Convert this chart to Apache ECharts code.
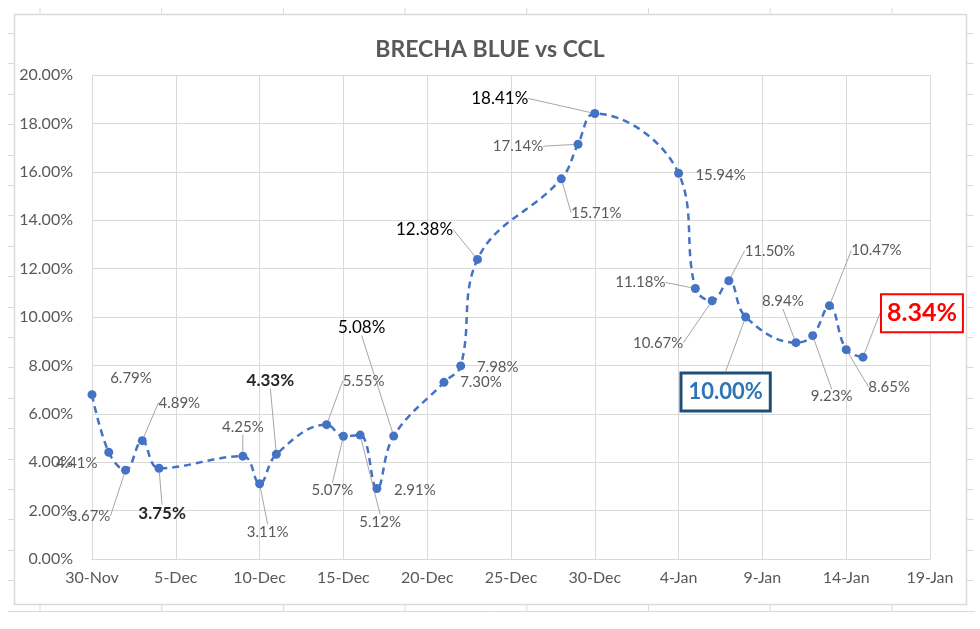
<!DOCTYPE html>
<html>
<head>
<meta charset="utf-8">
<script src="https://cdn.jsdelivr.net/npm/echarts@6/dist/echarts.min.js"></script>
<style>
html,body{margin:0;padding:0;background:#fff;}
#chart{width:980px;height:629px;}
</style>
</head>
<body>
<div id="chart"></div>
<script>
// ---- data ----
const startDate = '2020-11-30';
const dates = ['2020-11-30','2020-12-01','2020-12-02','2020-12-03','2020-12-04',
  '2020-12-09','2020-12-10','2020-12-11','2020-12-14','2020-12-15','2020-12-16',
  '2020-12-17','2020-12-18','2020-12-21','2020-12-22','2020-12-23','2020-12-28',
  '2020-12-29','2020-12-30','2021-01-04','2021-01-05','2021-01-06','2021-01-07',
  '2021-01-08','2021-01-11','2021-01-12','2021-01-13','2021-01-14','2021-01-15'];
const brecha = [6.79,4.41,3.67,4.89,3.75,4.25,3.11,4.33,5.55,5.07,5.12,2.91,5.08,
  7.30,7.98,12.38,15.71,17.14,18.41,15.94,11.18,10.67,11.50,10.00,8.94,9.23,10.47,8.65,8.34];
const xTickLabels = ['30-Nov','5-Dec','10-Dec','15-Dec','20-Dec','25-Dec','30-Dec','4-Jan','9-Jan','14-Jan','19-Jan'];
const yMin = 0, yMax = 20, yStep = 2;
const titleText = 'BRECHA BLUE vs CCL';

// ---- label placement (style only): offset of label centre from point, leader flag ----
const labelOffsets = [[39,-17],[-32,11],[-36,46],[37,-38],[3,45],[0,-29],[8,48],[-6,-74],
  [37,-44],[-11,54],[20,87],[38,2],[-32,-109],[37,0],[37,1],[-53,-30],[35,34],[-60,2],
  [-95,-15],[42,2],[-55,-6],[-54,42],[41,-30],[-20,75],[-13,-41],[19,61],[47,-55],[43,37],[59,-44]];
const leaders = [0,0,1,1,1,1,1,1,1,1,1,0,1,0,0,1,1,1,1,0,1,1,1,1,1,1,1,1,1];
// special label styles keyed by index
const specialStyle = {
  4: {fontSize:17, fontWeight:'bold', color:'#262626'},
  7: {fontSize:17, fontWeight:'bold', color:'#262626'},
  12: {fontSize:17, color:'#000'},
  15: {fontSize:17, color:'#000'},
  18: {fontSize:17, color:'#000'},
  23: {fontSize:22, fontWeight:'bold', color:'#2E75B6', borderColor:'#1F4E79', borderWidth:3,
       padding:[7,6,6,6], backgroundColor:'#fff'},
  28: {fontSize:25, fontWeight:'bold', color:'#FF0000', borderColor:'#FF0000', borderWidth:2,
       padding:[6,5,5,5], backgroundColor:'#fff'}
};

const DAY = 86400000;
const t0 = Date.parse(startDate + 'T00:00:00Z');
const dayIndex = d => Math.round((Date.parse(d + 'T00:00:00Z') - t0) / DAY);

const seriesData = dates.map((d, i) => ({
  value: [dayIndex(d), brecha[i]],
  label: Object.assign({}, specialStyle[i] || {}),
  labelLine: {show: !!leaders[i]}
}));

const FONT = 'Lato, "Liberation Sans", sans-serif';

// spreadsheet grid fragments behind the chart
const graphics = [];
const colXs = [40, 161.7, 283.4, 405.1, 526.8, 648.5, 770.2, 891.9];
const rowYs = [];
for (let y = 33; y < 605; y += 30.4) rowYs.push(Math.round(y) + 0.5);
const gStyle = {stroke:'#D9D9D9', lineWidth:1};
colXs.forEach(x => {
  graphics.push({type:'line', shape:{x1:x, y1:8, x2:x, y2:14}, style:gStyle, silent:true});
  graphics.push({type:'line', shape:{x1:x, y1:605, x2:x, y2:611}, style:gStyle, silent:true});
});
rowYs.forEach(y => {
  graphics.push({type:'line', shape:{x1:8, y1:y, x2:14, y2:y}, style:gStyle, silent:true});
  graphics.push({type:'line', shape:{x1:967, y1:y, x2:973, y2:y}, style:gStyle, silent:true});
});
graphics.push({type:'line', shape:{x1:8, y1:611.5, x2:975, y2:611.5}, style:gStyle, silent:true});
graphics.push({type:'rect', shape:{x:14.5, y:14.5, width:952, height:590},
  style:{fill:'none', stroke:'#D9D9D9', lineWidth:1.5}, silent:true, z:-1});

const chart = echarts.init(document.getElementById('chart'), null, {renderer:'canvas'});
chart.setOption({
  animation: false,
  backgroundColor: '#fff',
  textStyle: {fontFamily: FONT},
  title: {
    text: titleText, left: 'center', top: 33,
    textStyle: {fontFamily: FONT, fontSize: 23, fontWeight: 'bold', color: '#595959'}
  },
  graphic: graphics,
  grid: {left: 92, right: 50, top: 75, bottom: 70, containLabel: false},
  xAxis: {
    type: 'value', min: 0, max: (xTickLabels.length - 1) * 5, interval: 5,
    axisLine: {show: true, lineStyle: {color: '#D9D9D9', width: 1}},
    axisTick: {show: false},
    splitLine: {show: true, lineStyle: {color: '#D9D9D9', width: 1}},
    axisLabel: {
      color: '#595959', fontSize: 16, fontFamily: FONT, margin: 11,
      formatter: v => xTickLabels[Math.round(v / 5)] || ''
    }
  },
  yAxis: {
    type: 'value', min: yMin, max: yMax, interval: yStep,
    axisLine: {show: false}, axisTick: {show: false},
    splitLine: {show: true, lineStyle: {color: '#D9D9D9', width: 1}},
    axisLabel: {color: '#595959', fontSize: 16, fontFamily: FONT, margin: 19,
      formatter: v => v.toFixed(2) + '%'}
  },
  series: [{
    type: 'line',
    data: seriesData,
    smooth: 0.4,
    symbol: 'circle',
    symbolSize: 9,
    itemStyle: {color: '#4472C4'},
    lineStyle: {color: '#4472C4', width: 2.5, type: [7, 5]},
    label: {
      show: true, position: 'inside',
      color: '#595959', fontSize: 15, fontFamily: FONT,
      formatter: p => p.value[1].toFixed(2) + '%'
    },
    labelLine: {show: true, lineStyle: {color: '#A6A6A6', width: 1}},
    labelLayout: function (params) {
      const off = labelOffsets[params.dataIndex];
      const r = params.rect;
      return {
        x: r.x + r.width / 2 + off[0],
        y: r.y + r.height / 2 + off[1],
        align: 'center', verticalAlign: 'middle'
      };
    },
    z: 3
  }]
});
</script>
</body>
</html>
